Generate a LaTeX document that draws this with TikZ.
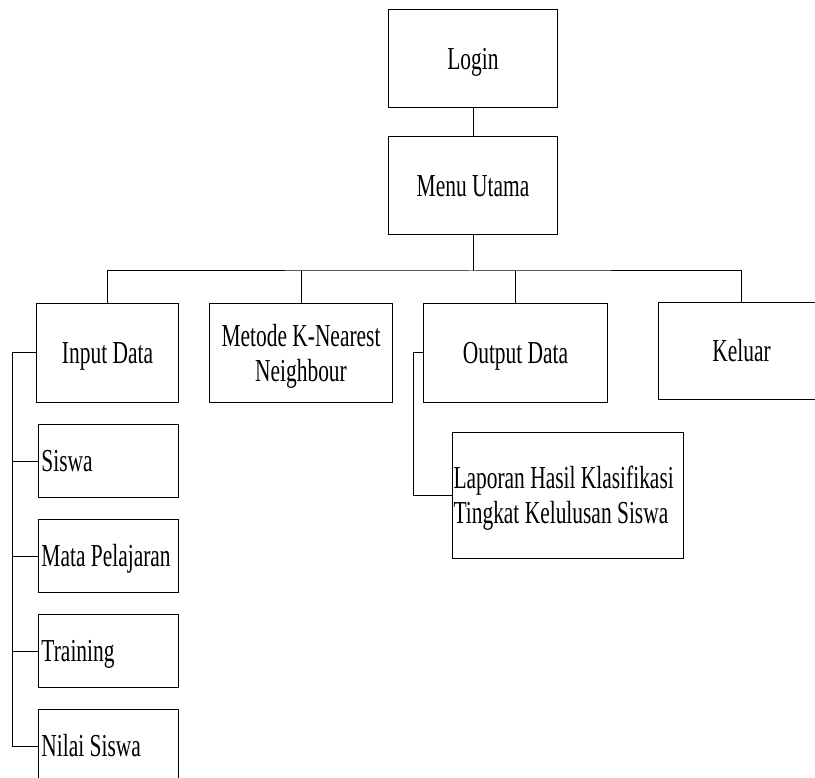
\documentclass[tikz,border=0pt]{standalone}
\usepackage{fontspec}
\setmainfont{Liberation Serif}[FakeStretch=0.67]
\usepackage{array}

% two-line labels: baseline on the last line so the cap block can be centred
\newcommand{\twocenter}[2]{\begin{tabular}[b]{@{}c@{}}#1\\#2\end{tabular}}
\newcommand{\twoleft}[3]{\begin{tabular}[b]{@{}p{#1}@{}}#2\\#3\end{tabular}}

\tikzset{
  every picture/.style={x=1pt, y=-1pt},
  box/.style={draw, line width=1pt, rectangle, inner sep=0pt, anchor=north west,
    font=\fontsize{32}{35}\selectfont, text height=21.2pt, text depth=0pt},
  twoline/.style={text height=56.2pt, text depth=0pt},
  link/.style={draw, line width=1pt}
}

\begin{document}
\begin{tikzpicture}
\useasboundingbox (0,0) rectangle (815,778);
\clip (0,0) rectangle (815,778);

% top of the menu tree
\node[box, minimum width=169pt, minimum height=98pt] (login) at (388,9) {Login};
\node[box, minimum width=169pt, minimum height=98pt] (menu) at (388,136) {Menu Utama};

% main menu entries
\node[box, minimum width=142pt, minimum height=99pt] (input) at (36,303) {Input Data};
\node[box, twoline, minimum width=183pt, minimum height=99pt] (knn) at (209,303)
  {\twocenter{Metode K-Nearest}{Neighbour}};
\node[box, minimum width=184pt, minimum height=99pt] (output) at (423,303) {Output Data};
\node[box, minimum width=166pt, minimum height=97pt] (keluar) at (658,302) {Keluar};

% input data sub-menu
\node[box, minimum width=140pt, minimum height=73pt] (siswa) at (38,424)
  {\makebox[134pt][l]{Siswa}};
\node[box, minimum width=140pt, minimum height=73pt] (mapel) at (38,519)
  {\makebox[134pt][l]{Mata Pelajaran}};
\node[box, minimum width=140pt, minimum height=73pt] (training) at (38,614)
  {\makebox[134pt][l]{Training}};
\node[box, minimum width=140pt, minimum height=73pt] (nilai) at (38,709)
  {\makebox[134pt][l]{Nilai Siswa}};

% output data sub-menu
\node[box, twoline, minimum width=231pt, minimum height=126pt] (laporan) at (452,432)
  {\twoleft{229pt}{Laporan Hasil Klasifikasi}{Tingkat Kelulusan Siswa}};

% connectors
\coordinate (bus) at (473,271);
\coordinate (trunk) at (12,0);
\coordinate (otrunk) at (413,0);

\path[link] (login.south) -- (menu.north);
\path[link] (menu.south) -- (bus);
\path[link] (input.north) |- (bus) -| (keluar.north);
\path[link] (knn.north) -- (knn.north |- bus);
\path[link] (output.north) -- (output.north |- bus);

\path[link] (input.west) -| (trunk |- nilai.west) -- (nilai.west);
\path[link] (siswa.west) -- (siswa.west -| trunk);
\path[link] (mapel.west) -- (mapel.west -| trunk);
\path[link] (training.west) -- (training.west -| trunk);

\path[link] (output.west) -| (otrunk |- laporan.west) -- (laporan.west);
\end{tikzpicture}
\end{document}
